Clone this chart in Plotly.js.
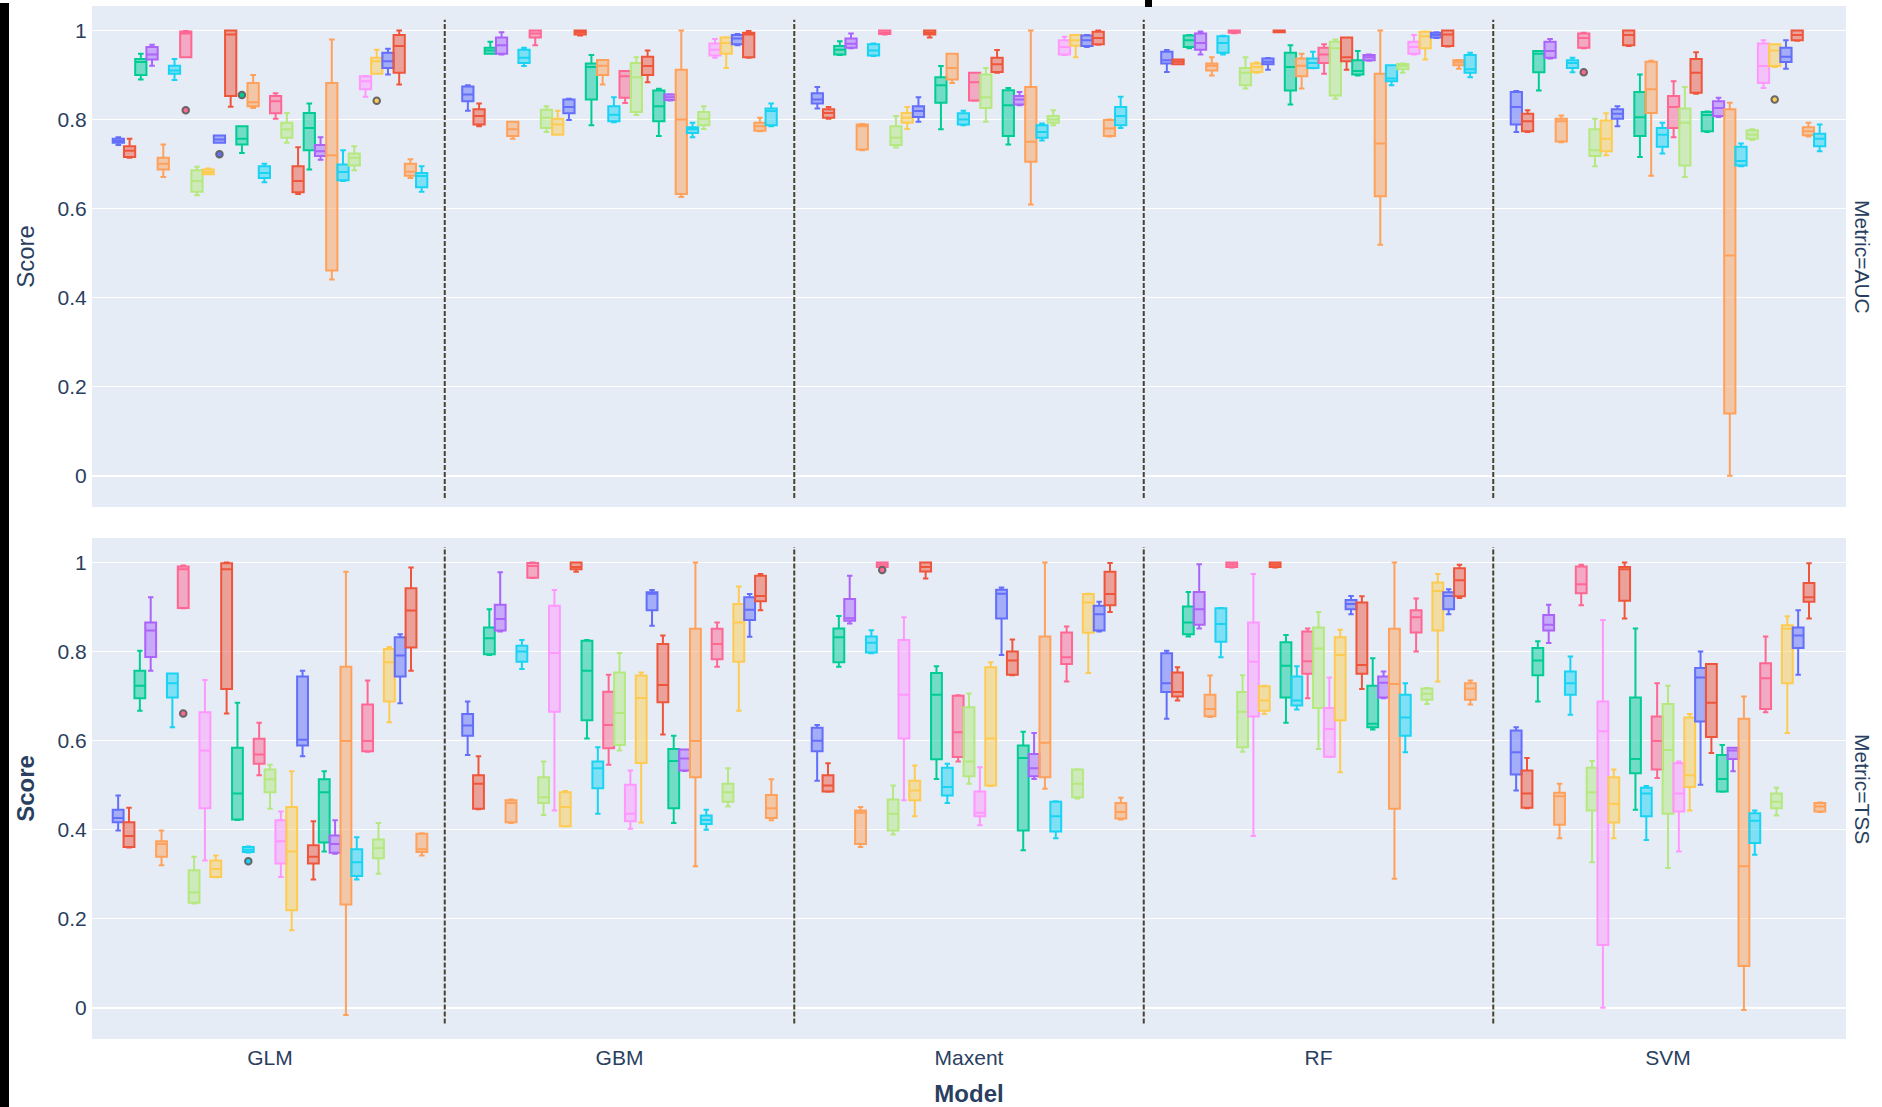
<!DOCTYPE html>
<html>
<head>
<meta charset="utf-8">
<script src="https://cdn.plot.ly/plotly-3.0.1.min.js"></script>
<style>
  html, body { margin: 0; padding: 0; background: #ffffff; }
  #chart { width: 1882px; height: 1107px; }
  .edge-left { position: absolute; left: 0; top: 3px; width: 9px; height: 1104px; background: #000; }
  .edge-top { position: absolute; left: 1145px; top: 0; width: 7px; height: 7px; background: #000; }
</style>
</head>
<body>
<div id="chart"></div>
<div class="edge-left"></div>
<div class="edge-top"></div>
<script>
// ---------------- DATA ----------------
const models = ["GLM", "GBM", "Maxent", "RF", "SVM"];
const metrics = ["AUC", "TSS"];
const groupCount = 36;

// each row = one colour group: [lower whisker, Q1, median, Q3, upper whisker]
const AUC_GLM = [
[0.743,0.748,0.752,0.757,0.760],[0.714,0.716,0.730,0.740,0.757],[0.890,0.900,0.929,0.936,0.948],[0.921,0.935,0.946,0.963,0.968],
[0.671,0.688,0.701,0.714,0.744],[0.889,0.903,0.910,0.921,0.936],[0.940,0.940,0.993,0.998,0.999],[0.630,0.638,0.662,0.686,0.694],
[0.630,0.746,0.814,0.847,0.886],[0.677,0.677,0.682,0.688,0.690],[0.748,0.748,0.755,0.764,0.764],[0.829,0.853,0.991,1.000,1.000],
[0.725,0.744,0.757,0.785,0.785],[0.787,0.798,0.819,0.836,0.875],[0.826,0.830,0.839,0.882,0.900],[0.659,0.669,0.680,0.695,0.701],
[0.802,0.814,0.841,0.853,0.859],[0.748,0.759,0.778,0.793,0.815],[0.677,0.677,0.708,0.735,0.760],[0.499,0.557,0.677,0.693,0.699],
[0.796,0.829,0.882,0.907,0.916],[0.633,0.637,0.662,0.695,0.738],[0.688,0.731,0.781,0.815,0.836],[0.710,0.718,0.729,0.743,0.760],
[0.441,0.461,0.720,0.882,0.980],[0.662,0.664,0.682,0.699,0.731],[0.820,0.829,0.847,0.903,0.914],[0.686,0.697,0.714,0.724,0.740],
[0.851,0.868,0.886,0.897,0.898],[0.903,0.903,0.931,0.939,0.957],[0.901,0.916,0.931,0.950,0.959],[0.879,0.905,0.965,0.990,1.000],
[0.885,0.906,0.924,0.933,0.952],[0.986,0.987,0.991,0.994,0.997],[0.669,0.674,0.683,0.701,0.711],[0.638,0.648,0.673,0.680,0.695]];

const AUC_GBM = [
[0.820,0.841,0.856,0.874,0.877],[0.785,0.789,0.808,0.823,0.836],[0.948,0.948,0.955,0.961,0.975],[0.946,0.948,0.967,0.984,0.996],
[0.757,0.763,0.778,0.795,0.795],[0.920,0.927,0.939,0.957,0.961],[0.967,0.984,0.993,1.000,1.000],[0.772,0.781,0.804,0.822,0.830],
[0.855,0.855,0.948,0.963,0.978],[0.766,0.766,0.789,0.802,0.820],[0.799,0.814,0.828,0.845,0.847],[0.989,0.991,0.996,1.000,1.000],
[0.787,0.845,0.918,0.926,0.945],[0.894,0.894,0.916,0.925,0.926],[0.879,0.900,0.921,0.934,0.934],[0.794,0.796,0.811,0.830,0.850],
[0.837,0.849,0.897,0.909,0.909],[0.810,0.817,0.895,0.927,0.940],[0.751,0.764,0.778,0.805,0.821],[0.795,0.795,0.860,0.900,0.909],
[0.966,0.969,0.976,0.984,0.986],[0.884,0.900,0.920,0.941,0.955],[0.763,0.796,0.830,0.865,0.869],[0.843,0.844,0.850,0.856,0.857],
[0.626,0.633,0.800,0.912,1.000],[0.760,0.770,0.778,0.783,0.793],[0.935,0.939,0.950,0.957,0.957],[0.779,0.787,0.802,0.817,0.830],
[0.939,0.944,0.957,0.971,0.981],[0.916,0.948,0.972,0.984,0.985],[0.967,0.969,0.982,0.990,0.992],[0.939,0.940,0.991,0.995,0.999],
[0.931,0.931,0.946,0.959,0.960],[0.988,0.991,0.995,1.000,1.000],[0.774,0.775,0.785,0.793,0.804],[0.785,0.787,0.819,0.825,0.836]];

const AUC_Maxent = [
[0.825,0.836,0.845,0.859,0.873],[0.802,0.804,0.815,0.823,0.828],[0.945,0.946,0.957,0.965,0.976],[0.960,0.961,0.970,0.982,0.993],
[0.731,0.733,0.785,0.789,0.790],[0.943,0.944,0.955,0.969,0.971],[0.991,0.992,0.995,1.000,1.000],[0.737,0.743,0.759,0.785,0.808],
[0.699,0.795,0.916,0.945,0.961],[0.779,0.793,0.804,0.815,0.828],[0.795,0.806,0.819,0.830,0.850],[0.984,0.991,0.995,1.000,1.000],
[0.778,0.838,0.877,0.895,0.920],[0.834,0.841,0.865,0.910,0.910],[0.882,0.890,0.916,0.948,0.948],[0.787,0.789,0.800,0.814,0.820],
[0.842,0.843,0.884,0.905,0.905],[0.795,0.826,0.850,0.901,0.916],[0.750,0.751,0.755,0.819,0.845],[0.707,0.728,0.845,0.877,0.886],
[0.954,0.961,0.972,0.981,0.984],[0.905,0.907,0.924,0.939,0.956],[0.744,0.763,0.832,0.866,0.871],[0.832,0.834,0.845,0.853,0.862],
[0.609,0.705,0.750,0.873,1.000],[0.753,0.759,0.772,0.787,0.791],[0.920,0.937,0.950,0.963,0.969],[0.787,0.793,0.800,0.808,0.821],
[0.945,0.946,0.963,0.978,0.986],[0.940,0.966,0.978,0.990,0.990],[0.963,0.965,0.978,0.989,0.990],[0.968,0.969,0.983,0.997,1.000],
[0.942,0.942,0.955,0.965,0.966],[0.988,0.991,0.996,1.000,1.000],[0.762,0.763,0.780,0.799,0.800],[0.781,0.787,0.808,0.828,0.851]];

const AUC_RF = [
[0.907,0.926,0.933,0.952,0.956],[0.924,0.924,0.930,0.935,0.935],[0.960,0.963,0.978,0.989,0.990],[0.946,0.957,0.972,0.993,0.998],
[0.899,0.910,0.921,0.926,0.940],[0.946,0.950,0.972,0.987,0.988],[0.994,0.995,0.998,1.000,1.000],[0.870,0.877,0.905,0.916,0.940],
[0.865,0.865,0.946,0.966,0.993],[0.905,0.907,0.918,0.926,0.928],[0.912,0.924,0.930,0.937,0.938],[0.996,0.996,0.998,1.000,1.000],
[0.834,0.865,0.918,0.950,0.967],[0.905,0.924,0.933,0.957,0.960],[0.870,0.897,0.921,0.937,0.948],[0.915,0.916,0.927,0.937,0.952],
[0.903,0.927,0.946,0.961,0.969],[0.847,0.854,0.960,0.975,0.980],[0.855,0.856,0.903,0.911,0.933],[0.697,0.835,0.888,0.950,0.950],
[0.976,0.978,0.985,0.989,0.990],[0.912,0.931,0.940,0.984,0.984],[0.899,0.901,0.909,0.933,0.954],[0.932,0.933,0.940,0.945,0.946],
[0.519,0.628,0.746,0.903,1.000],[0.877,0.886,0.892,0.922,0.922],[0.961,0.965,0.976,0.984,0.990],[0.905,0.913,0.920,0.925,0.926],
[0.946,0.948,0.963,0.975,0.990],[0.935,0.960,0.987,0.997,0.998],[0.983,0.984,0.990,0.995,0.996],[0.964,0.965,0.991,1.000,1.000],
[0.935,0.952,0.972,0.980,0.990],[0.995,0.996,0.998,1.000,1.000],[0.914,0.922,0.928,0.933,0.934],[0.895,0.905,0.913,0.945,0.950]];

const AUC_SVM = [
[0.772,0.789,0.828,0.862,0.864],[0.772,0.774,0.796,0.813,0.821],[0.865,0.906,0.948,0.954,0.954],[0.937,0.939,0.954,0.975,0.981],
[0.749,0.751,0.796,0.802,0.809],[0.906,0.916,0.927,0.933,0.939],[0.960,0.961,0.983,0.993,0.995],[0.695,0.718,0.731,0.778,0.802],
[0.117,0.334,0.673,0.781,0.960],[0.720,0.729,0.757,0.798,0.814],[0.785,0.802,0.813,0.823,0.830],[0.965,0.967,0.990,1.000,1.000],
[0.716,0.763,0.805,0.862,0.901],[0.740,0.793,0.879,0.900,0.924],[0.674,0.815,0.868,0.930,0.932],[0.724,0.739,0.766,0.781,0.793],
[0.760,0.781,0.828,0.853,0.886],[0.671,0.697,0.793,0.825,0.873],[0.749,0.749,0.787,0.798,0.804],[0.731,0.735,0.744,0.787,0.787],
[0.880,0.882,0.920,0.927,0.955],[0.858,0.860,0.905,0.936,0.951],[0.772,0.774,0.810,0.817,0.818],[0.806,0.808,0.826,0.841,0.849],
[0.000,0.140,0.495,0.823,0.838],[0.695,0.697,0.707,0.739,0.746],[0.880,0.882,0.910,0.922,0.939],[0.754,0.757,0.766,0.776,0.778],
[0.871,0.882,0.920,0.971,0.978],[0.918,0.920,0.955,0.969,0.969],[0.914,0.929,0.941,0.961,0.978],[0.977,0.978,0.990,1.000,1.000],
[0.902,0.903,0.930,0.944,0.948],[0.955,0.976,0.990,1.000,1.000],[0.762,0.765,0.774,0.783,0.793],[0.729,0.740,0.757,0.768,0.789]];

const TSS_GLM = [
[0.398,0.417,0.426,0.445,0.477],[0.360,0.361,0.386,0.417,0.449],[0.667,0.695,0.723,0.757,0.802],[0.757,0.788,0.847,0.865,0.922],
[0.320,0.339,0.368,0.374,0.398],[0.630,0.697,0.729,0.751,0.751],[0.897,0.898,0.985,0.991,0.993],[0.234,0.236,0.259,0.309,0.339],
[0.331,0.448,0.578,0.664,0.736],[0.293,0.294,0.312,0.331,0.342],[0.361,0.410,0.451,0.463,0.465],[0.661,0.716,0.985,0.998,1.000],
[0.422,0.423,0.481,0.584,0.685],[0.454,0.458,0.503,0.561,0.641],[0.555,0.617,0.677,0.712,0.727],[0.349,0.350,0.355,0.361,0.362],
[0.522,0.548,0.569,0.604,0.640],[0.447,0.484,0.513,0.535,0.546],[0.294,0.324,0.374,0.421,0.441],[0.174,0.219,0.351,0.451,0.531],
[0.565,0.589,0.602,0.744,0.757],[0.288,0.324,0.339,0.365,0.419],[0.351,0.371,0.484,0.513,0.531],[0.346,0.348,0.368,0.387,0.421],
[-0.016,0.232,0.599,0.766,0.979],[0.288,0.296,0.327,0.356,0.383],[0.575,0.576,0.599,0.681,0.735],[0.301,0.336,0.359,0.378,0.415],
[0.624,0.625,0.643,0.676,0.716],[0.641,0.688,0.776,0.806,0.810],[0.684,0.744,0.791,0.832,0.839],[0.757,0.809,0.892,0.942,0.989],
[0.667,0.709,0.723,0.772,0.789],[0.946,0.948,0.961,0.980,0.993],[0.342,0.350,0.356,0.391,0.392],[0.217,0.281,0.316,0.339,0.357]];

const TSS_GBM = [
[0.568,0.611,0.634,0.660,0.688],[0.446,0.447,0.503,0.522,0.565],[0.792,0.794,0.830,0.854,0.895],[0.845,0.847,0.873,0.905,0.978],
[0.415,0.417,0.460,0.466,0.468],[0.761,0.777,0.800,0.813,0.826],[0.965,0.966,0.992,0.999,1.000],[0.433,0.460,0.473,0.518,0.553],
[0.443,0.665,0.797,0.903,0.938],[0.407,0.408,0.451,0.484,0.487],[0.523,0.524,0.557,0.564,0.566],[0.979,0.985,0.990,1.000,1.000],
[0.605,0.646,0.757,0.824,0.826],[0.672,0.673,0.720,0.725,0.729],[0.656,0.671,0.721,0.770,0.781],[0.436,0.493,0.538,0.553,0.585],
[0.546,0.583,0.635,0.710,0.748],[0.578,0.590,0.662,0.753,0.797],[0.402,0.419,0.436,0.501,0.533],[0.416,0.550,0.696,0.746,0.753],
[0.858,0.893,0.930,0.933,0.938],[0.614,0.686,0.725,0.817,0.836],[0.415,0.448,0.554,0.581,0.611],[0.532,0.533,0.560,0.580,0.580],
[0.318,0.518,0.599,0.851,1.000],[0.400,0.413,0.422,0.432,0.445],[0.766,0.783,0.817,0.851,0.865],[0.452,0.463,0.484,0.503,0.538],
[0.804,0.818,0.830,0.845,0.846],[0.667,0.777,0.865,0.907,0.946],[0.833,0.871,0.894,0.922,0.929],[0.893,0.913,0.925,0.970,0.974],
[0.747,0.747,0.787,0.794,0.795],[0.954,0.975,0.989,0.998,1.000],[0.421,0.426,0.448,0.478,0.513],[0.432,0.438,0.462,0.546,0.565]];

const TSS_Maxent = [
[0.510,0.576,0.600,0.629,0.635],[0.485,0.486,0.499,0.522,0.549],[0.766,0.776,0.832,0.852,0.880],[0.863,0.869,0.875,0.918,0.970],
[0.361,0.368,0.438,0.443,0.451],[0.796,0.798,0.820,0.834,0.848],[0.989,0.990,0.995,1.000,1.000],[0.389,0.398,0.436,0.468,0.499],
[0.466,0.605,0.703,0.826,0.877],[0.430,0.466,0.488,0.510,0.544],[0.479,0.488,0.520,0.533,0.535],[0.964,0.980,0.990,1.000,1.000],
[0.514,0.558,0.703,0.752,0.767],[0.552,0.565,0.602,0.732,0.744],[0.665,0.667,0.757,0.780,0.826],[0.460,0.477,0.496,0.539,0.548],
[0.553,0.563,0.619,0.701,0.702],[0.503,0.520,0.553,0.675,0.706],[0.410,0.430,0.438,0.486,0.540],[0.498,0.499,0.605,0.765,0.776],
[0.792,0.874,0.930,0.939,0.944],[0.747,0.748,0.780,0.800,0.827],[0.354,0.398,0.561,0.589,0.620],[0.514,0.520,0.538,0.570,0.617],
[0.492,0.518,0.595,0.834,1.000],[0.381,0.396,0.430,0.463,0.464],[0.733,0.772,0.787,0.843,0.856],[0.470,0.473,0.503,0.535,0.536],
[0.789,0.821,0.865,0.886,0.903],[0.752,0.842,0.910,0.929,0.930],[0.845,0.847,0.884,0.903,0.912],[0.889,0.904,0.929,0.979,0.999],
[0.766,0.767,0.812,0.826,0.852],[0.957,0.970,0.985,0.998,1.000],[0.423,0.425,0.440,0.460,0.472],[0.434,0.462,0.473,0.525,0.570]];

const TSS_RF = [
[0.649,0.709,0.729,0.796,0.802],[0.690,0.699,0.709,0.753,0.765],[0.834,0.839,0.865,0.901,0.934],[0.852,0.860,0.895,0.934,0.996],
[0.653,0.655,0.671,0.703,0.746],[0.787,0.822,0.862,0.897,0.898],[0.989,0.990,0.995,1.000,1.000],[0.575,0.585,0.665,0.709,0.747],
[0.386,0.654,0.777,0.865,0.974],[0.660,0.667,0.690,0.722,0.723],[0.643,0.688,0.729,0.741,0.762],[0.989,0.990,0.995,1.000,1.000],
[0.640,0.697,0.768,0.821,0.837],[0.629,0.691,0.720,0.808,0.817],[0.681,0.682,0.718,0.731,0.765],[0.670,0.679,0.690,0.744,0.767],
[0.695,0.750,0.778,0.845,0.852],[0.581,0.673,0.807,0.854,0.889],[0.563,0.564,0.626,0.673,0.742],[0.529,0.646,0.792,0.832,0.849],
[0.884,0.895,0.907,0.916,0.925],[0.716,0.750,0.770,0.910,0.924],[0.625,0.630,0.638,0.723,0.785],[0.695,0.697,0.730,0.744,0.755],
[0.290,0.447,0.727,0.851,1.000],[0.574,0.611,0.652,0.703,0.729],[0.800,0.843,0.877,0.893,0.919],[0.682,0.692,0.705,0.717,0.718],
[0.807,0.809,0.845,0.888,0.904],[0.733,0.847,0.936,0.955,0.974],[0.884,0.895,0.925,0.933,0.940],[0.920,0.924,0.960,0.987,0.995],
[0.741,0.803,0.832,0.853,0.910],[0.977,0.978,0.990,0.997,1.000],[0.681,0.692,0.717,0.729,0.735],[0.623,0.640,0.665,0.738,0.761]];

const TSS_SVM = [
[0.488,0.524,0.574,0.623,0.630],[0.448,0.449,0.481,0.533,0.561],[0.688,0.747,0.780,0.808,0.823],[0.819,0.847,0.860,0.882,0.905],
[0.381,0.411,0.475,0.483,0.503],[0.658,0.703,0.729,0.755,0.789],[0.904,0.931,0.951,0.991,0.995],[0.327,0.443,0.484,0.539,0.554],
[0.000,0.141,0.621,0.688,0.871],[0.381,0.416,0.458,0.518,0.535],[0.490,0.508,0.542,0.549,0.552],[0.874,0.914,0.985,0.990,1.000],
[0.445,0.527,0.559,0.697,0.852],[0.553,0.581,0.635,0.690,0.735],[0.561,0.615,0.685,0.748,0.783],[0.377,0.430,0.481,0.494,0.498],
[0.516,0.535,0.599,0.654,0.729],[0.314,0.436,0.579,0.682,0.723],[0.351,0.441,0.481,0.549,0.553],[0.443,0.496,0.522,0.652,0.660],
[0.501,0.643,0.742,0.763,0.800],[0.572,0.608,0.685,0.772,0.772],[0.485,0.486,0.514,0.568,0.590],[0.531,0.559,0.578,0.584,0.584],
[-0.005,0.094,0.318,0.649,0.699],[0.344,0.370,0.420,0.437,0.443],[0.664,0.671,0.740,0.774,0.834],[0.432,0.448,0.463,0.481,0.494],
[0.651,0.748,0.789,0.821,0.877],[0.617,0.729,0.851,0.859,0.879],[0.748,0.808,0.836,0.854,0.893],[0.874,0.912,0.922,0.954,0.998],
[0.711,0.712,0.760,0.791,0.800],[0.864,0.918,0.949,0.991,1.000],[0.440,0.441,0.452,0.460,0.461],[0.465,0.466,0.480,0.499,0.513]];

// outliers: [model, colour group index, value]
const AUC_OUTLIERS = [
["GLM",6,0.821],["GLM",10,0.722],["GLM",12,0.855],["GLM",29,0.842],
["GBM",8,0.614],["GBM",13,0.851],["GBM",19,0.638],["GBM",26,0.978],["GBM",32,0.882],
["Maxent",32,0.916],
["RF",8,0.658],["RF",33,0.989],
["SVM",6,0.906],["SVM",18,0.671],["SVM",20,0.815],["SVM",29,0.845],["SVM",32,0.815]];

const TSS_OUTLIERS = [
["GLM",6,0.661],["GLM",15,0.329],
["GBM",10,0.452],["GBM",13,0.585],["GBM",28,0.882],["GBM",32,0.667],
["Maxent",6,0.983],["Maxent",32,0.666],
["RF",14,0.583],["RF",33,0.949],
["SVM",32,0.585],["SVM",35,0.408]];

// ---------------- STYLE ----------------
const palette = ['#636EFA','#EF553B','#00CC96','#AB63FA','#FFA15A','#19D3F3','#FF6692','#B6E880','#FF97FF','#FECB52'];
const FONT = "Arial, 'Liberation Sans', sans-serif";
const TXT = '#2a3f5f';

const boxes = {
  AUC: [AUC_GLM, AUC_GBM, AUC_Maxent, AUC_RF, AUC_SVM],
  TSS: [TSS_GLM, TSS_GBM, TSS_Maxent, TSS_RF, TSS_SVM]
};
const outliers = { AUC: AUC_OUTLIERS, TSS: TSS_OUTLIERS };
const axesFor = { AUC: ['x2', 'y2'], TSS: ['x', 'y'] };

const traces = [];
metrics.forEach(metric => {
  const tables = boxes[metric];
  for (let g = 0; g < groupCount; g++) {
    const col = palette[g % palette.length];
    const trace = {
      type: 'box',
      name: 'Group ' + (g + 1),
      legendgroup: 'g' + g,
      offsetgroup: 'g' + g,
      alignmentgroup: 'all',
      showlegend: false,
      orientation: 'v',
      x: models,
      lowerfence: tables.map(t => t[g][0]),
      q1: tables.map(t => t[g][1]),
      median: tables.map(t => t[g][2]),
      q3: tables.map(t => t[g][3]),
      upperfence: tables.map(t => t[g][4]),
      boxpoints: 'outliers',
      jitter: 0,
      pointpos: 0,
      xaxis: axesFor[metric][0],
      yaxis: axesFor[metric][1],
      line: { color: col, width: 2 },
      marker: { color: col, size: 6.5, line: { color: 'rgb(102,102,102)', width: 2 } }
    };
    const pts = models.map(m => outliers[metric].filter(o => o[0] === m && o[1] === g).map(o => o[2]));
    if (pts.some(p => p.length > 0)) trace.y = pts;
    traces.push(trace);
  }
});

const yRange = [-0.07, 1.055];
const baseAxis = {
  gridcolor: 'white', linecolor: 'white', zerolinecolor: 'white', zerolinewidth: 2,
  ticks: '', tickfont: { family: FONT, size: 21, color: TXT }
};

const shapes = [];
const dividers = [0.5, 1.5, 2.5, 3.5];
[['x2','y2',-0.05,1.024],['x','y',-0.035,1.035]].forEach(([xr, yr, y0, y1]) => {
  dividers.forEach(b => shapes.push({
    type: 'line', xref: xr, yref: yr, x0: b, x1: b, y0: y0, y1: y1,
    line: { color: '#4a4231', width: 2, dash: '5px,2px' }
  }));
});

const layout = {
  width: 1882, height: 1107,
  margin: { l: 92, r: 36, t: 6, b: 68 },
  paper_bgcolor: 'white', plot_bgcolor: '#E5ECF6',
  font: { family: FONT, size: 21, color: TXT },
  showlegend: false,
  boxmode: 'group', boxgap: 0.1, boxgroupgap: 0,
  xaxis: Object.assign({}, baseAxis, {
    anchor: 'y', domain: [0, 1], type: 'category',
    categoryorder: 'array', categoryarray: models,
    showgrid: false,
    title: { text: '<b>Model</b>', font: { family: FONT, size: 24, color: TXT }, standoff: 18 }
  }),
  xaxis2: Object.assign({}, baseAxis, {
    anchor: 'y2', domain: [0, 1], type: 'category',
    categoryorder: 'array', categoryarray: models,
    showgrid: false, showticklabels: false
  }),
  yaxis: Object.assign({}, baseAxis, {
    anchor: 'x', domain: [0, 0.485], range: yRange, dtick: 0.2, tick0: 0,
    title: { text: '<b>Score</b>', font: { family: FONT, size: 24, color: TXT } }
  }),
  yaxis2: Object.assign({}, baseAxis, {
    anchor: 'x2', domain: [0.515, 1], range: yRange, dtick: 0.2, tick0: 0,
    title: { text: 'Score', font: { family: FONT, size: 24, color: TXT } }
  }),
  annotations: [
    { text: 'Metric=AUC', textangle: 90, showarrow: false, xref: 'paper', yref: 'paper',
      x: 1, y: 0.7575, xanchor: 'left', yanchor: 'middle', xshift: 3,
      font: { family: FONT, size: 21, color: TXT } },
    { text: 'Metric=TSS', textangle: 90, showarrow: false, xref: 'paper', yref: 'paper',
      x: 1, y: 0.2425, xanchor: 'left', yanchor: 'middle', xshift: 3,
      font: { family: FONT, size: 21, color: TXT } }
  ],
  shapes: shapes
};

Plotly.newPlot('chart', traces, layout, { displayModeBar: false, responsive: false });
</script>
</body>
</html>
